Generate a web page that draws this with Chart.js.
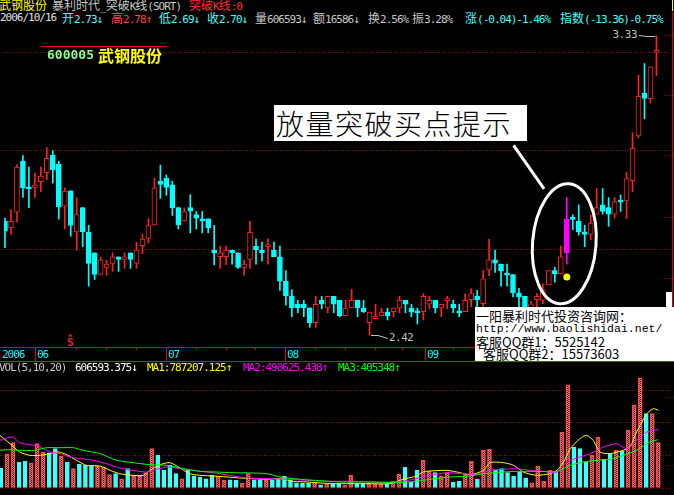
<!DOCTYPE html>
<html>
<head>
<meta charset="utf-8">
<title>武钢股份 日线</title>
<script src="https://cdn.jsdelivr.net/npm/chart.js@4.4.1/dist/chart.umd.min.js"></script>
<style>
  html, body { margin: 0; padding: 0; background: #000; }
  #wrap { position: relative; width: 674px; height: 495px; overflow: hidden; background: #000; }
  canvas { position: absolute; left: 0; }
  #priceChart { top: 26px; }
  #volChart { top: 362px; }
  .t { position: absolute; white-space: nowrap; font: 11px 'DejaVu Sans Mono', monospace; letter-spacing: -1px; line-height: 12px; }
  .cjk { font-family: 'Noto Sans CJK SC', sans-serif; font-size: 12px; letter-spacing: 0; }
  .rule { position: absolute; background: #e00000; }
  #tip { position: absolute; left: 274px; top: 105px; width: 253px; height: 36px; background: #fff; color: #000;
         font: 300 28px 'Noto Sans CJK SC', sans-serif; line-height: 36px; letter-spacing: 1.5px; padding-left: 2px;
         box-sizing: border-box; white-space: nowrap; overflow: hidden; }
  #info { position: absolute; left: 475px; top: 307px; width: 199px; height: 54px; background: #fff; color: #000; overflow: hidden; }
  #info div { position: absolute; white-space: nowrap; font: 13px 'Noto Sans CJK SC', sans-serif; line-height: 14px; }
  #info .url { font: 11.5px 'Liberation Mono', monospace; }
</style>
</head>
<body>
<div id="wrap">
  <canvas id="priceChart" width="674" height="336"></canvas>
  <canvas id="volChart" width="674" height="133"></canvas>

  <!-- header line 1 -->
  <div class="t hd" style="left:-1px;top:-1px;color:#ffff00">武钢股份</div>
  <div class="t hd" style="left:52px;top:-1px;color:#c8c8c8">暴利时代_突破K线(SORT)</div>
  <div class="t hd" style="left:189px;top:-1px;color:#ff3030">突破K线:0</div>

  <!-- header line 2 -->
  <div class="t hd" style="left:0;top:12px;color:#e0e0e0">2006/10/16</div>
  <div class="t hd" style="left:62px;top:12px;color:#40ffff">开2.73↓</div>
  <div class="t hd" style="left:111px;top:12px;color:#ff4848">高2.78↑</div>
  <div class="t hd" style="left:159px;top:12px;color:#40ffff">低2.69↓</div>
  <div class="t hd" style="left:207px;top:12px;color:#40ffff">收2.70↓</div>
  <div class="t hd" style="left:255px;top:12px;color:#c8c8c8">量606593↓</div>
  <div class="t hd" style="left:313px;top:12px;color:#c8c8c8">额16586↓</div>
  <div class="t hd" style="left:368px;top:12px;color:#c8c8c8">换2.56%</div>
  <div class="t hd" style="left:412px;top:12px;color:#c8c8c8">振3.28%</div>
  <div class="t hd" style="left:465px;top:12px;color:#40ffff">涨(-0.04)-1.46%</div>
  <div class="t hd" style="left:560px;top:12px;color:#40ffff">指数(-13.36)-0.75%</div>

  <!-- stock label -->
  <div class="rule" style="left:41px;top:46px;width:126px;height:1px"></div>
  <div class="t" style="left:47px;top:48px;font:bold 13px 'DejaVu Sans Mono';letter-spacing:0;line-height:14px;color:#88ff88">600005</div>
  <div class="t" style="left:98px;top:46px;font:bold 16px 'Noto Sans CJK SC';letter-spacing:0;line-height:18px;color:#ffff00">武钢股份</div>

  <!-- right border -->
  <div class="rule" style="left:672px;top:12px;width:1px;height:336px"></div>
  <div style="position:absolute;left:672px;top:0;width:1px;height:11px;background:#ffff00"></div>

  <!-- volume header -->
  <div class="t" style="left:-1px;top:362px;color:#c8c8c8">VOL(5,10,20)</div>
  <div class="t" style="left:75px;top:362px;color:#ffffff">606593.375↓</div>
  <div class="t" style="left:147px;top:362px;color:#ffff00">MA1:787207.125↑</div>
  <div class="t" style="left:243px;top:362px;color:#ff00ff">MA2:490625.438↑</div>
  <div class="t" style="left:338px;top:362px;color:#00ff00">MA3:405348↑</div>

  <!-- annotations -->
  <div id="tip">放量突破买点提示</div>
  <div style="position:absolute;left:666px;top:292px;width:6px;height:15px;background:#fff"></div>
  <div id="info">
    <div style="left:1px;top:2px">一阳暴利时代投资咨询网：</div>
    <div class="url" style="left:1px;top:15px">http://www.baolishidai.net/</div>
    <div style="left:1px;top:28px">客服QQ群1：5525142</div>
    <div style="left:8px;top:40px">客服QQ群2：15573603</div>
  </div>
</div>

<script>
// Daily candles, 600005 武钢股份 (day 1 .. 110)
const opens = [
  2.766, 2.746, 2.794, 2.949, 2.868, 2.869, 2.887, 2.914, 2.967, 2.940,
  2.812, 2.859, 2.734, 2.808, 2.733, 2.670, 2.605, 2.626, 2.638, 2.658,
  2.650, 2.670, 2.638, 2.692, 2.714, 2.755, 2.888, 2.898, 2.877, 2.808,
  2.767, 2.808, 2.787, 2.774, 2.774, 2.679, 2.659, 2.659, 2.679, 2.670,
  2.626, 2.650, 2.691, 2.679, 2.689, 2.679, 2.658, 2.584, 2.539, 2.514,
  2.514, 2.503, 2.458, 2.526, 2.503, 2.538, 2.526, 2.479, 2.503, 2.526,
  2.502, 2.458, 2.470, 2.479, 2.490, 2.491, 2.503, 2.526, 2.502, 2.490,
  2.491, 2.514, 2.526, 2.503, 2.525, 2.514, 2.490, 2.491, 2.528, 2.539,
  2.516, 2.618, 2.649, 2.636, 2.604, 2.604, 2.548, 2.538, 2.490, 2.528,
  2.526, 2.573, 2.616, 2.606, 2.671, 2.774, 2.766, 2.734, 2.726, 2.788,
  2.816, 2.808, 2.788, 2.826, 2.828, 2.890, 3.026, 3.156, 3.139, 3.280
];
const highs = [
  2.776, 2.801, 2.939, 2.966, 2.931, 2.913, 2.931, 2.991, 2.981, 2.949,
  2.868, 2.859, 2.838, 2.808, 2.754, 2.670, 2.658, 2.648, 2.670, 2.658,
  2.670, 2.670, 2.703, 2.727, 2.774, 2.898, 2.937, 2.907, 2.888, 2.808,
  2.807, 2.847, 2.796, 2.796, 2.774, 2.754, 2.691, 2.691, 2.679, 2.670,
  2.648, 2.766, 2.712, 2.703, 2.712, 2.703, 2.691, 2.616, 2.558, 2.526,
  2.526, 2.503, 2.538, 2.538, 2.538, 2.538, 2.526, 2.526, 2.559, 2.526,
  2.526, 2.490, 2.514, 2.502, 2.502, 2.502, 2.538, 2.526, 2.514, 2.502,
  2.546, 2.538, 2.526, 2.514, 2.538, 2.526, 2.514, 2.546, 2.561, 2.556,
  2.616, 2.711, 2.679, 2.636, 2.636, 2.604, 2.562, 2.538, 2.523, 2.546,
  2.576, 2.616, 2.626, 2.691, 2.838, 2.786, 2.816, 2.754, 2.786, 2.866,
  2.866, 2.838, 2.838, 2.846, 2.916, 3.036, 3.211, 3.246, 3.236, 3.330
];
const lows = [
  2.686, 2.726, 2.764, 2.839, 2.808, 2.839, 2.856, 2.893, 2.883, 2.773,
  2.743, 2.721, 2.678, 2.689, 2.569, 2.589, 2.605, 2.602, 2.614, 2.614,
  2.623, 2.623, 2.623, 2.668, 2.701, 2.755, 2.836, 2.845, 2.784, 2.743,
  2.767, 2.731, 2.743, 2.731, 2.731, 2.634, 2.623, 2.634, 2.636, 2.623,
  2.602, 2.623, 2.636, 2.646, 2.636, 2.659, 2.556, 2.511, 2.476, 2.488,
  2.476, 2.444, 2.444, 2.500, 2.488, 2.488, 2.476, 2.479, 2.503, 2.476,
  2.488, 2.420, 2.470, 2.479, 2.466, 2.476, 2.488, 2.488, 2.476, 2.454,
  2.466, 2.500, 2.488, 2.476, 2.500, 2.488, 2.476, 2.491, 2.506, 2.506,
  2.506, 2.601, 2.611, 2.569, 2.569, 2.536, 2.506, 2.496, 2.480, 2.506,
  2.516, 2.573, 2.581, 2.606, 2.636, 2.741, 2.724, 2.689, 2.710, 2.788,
  2.788, 2.751, 2.776, 2.796, 2.774, 2.856, 3.020, 3.078, 3.126, 3.209
];
const closes = [
  2.736, 2.766, 2.931, 2.868, 2.865, 2.876, 2.904, 2.958, 2.923, 2.811,
  2.858, 2.754, 2.787, 2.734, 2.638, 2.605, 2.648, 2.636, 2.658, 2.650,
  2.658, 2.650, 2.679, 2.712, 2.753, 2.868, 2.878, 2.869, 2.808, 2.755,
  2.796, 2.797, 2.776, 2.767, 2.746, 2.670, 2.670, 2.679, 2.671, 2.626,
  2.636, 2.733, 2.680, 2.671, 2.691, 2.659, 2.584, 2.539, 2.503, 2.503,
  2.503, 2.458, 2.514, 2.514, 2.538, 2.514, 2.479, 2.502, 2.526, 2.503,
  2.491, 2.490, 2.478, 2.490, 2.479, 2.502, 2.526, 2.514, 2.490, 2.488,
  2.538, 2.526, 2.503, 2.514, 2.527, 2.503, 2.488, 2.526, 2.546, 2.528,
  2.591, 2.649, 2.639, 2.616, 2.602, 2.548, 2.536, 2.501, 2.515, 2.538,
  2.558, 2.616, 2.606, 2.658, 2.774, 2.772, 2.734, 2.726, 2.761, 2.808,
  2.796, 2.788, 2.826, 2.824, 2.896, 2.988, 3.146, 3.140, 3.236, 3.282
];
// Volume, 万股
const volumes = [
  29.9, 51.3, 67.8, 38.9, 39.9, 37.8, 66.3, 53.9, 52.8, 58.8,
  47.4, 38.9, 28.9, 35.5, 34.0, 34.0, 32.5, 31.4, 19.9, 21.4,
  13.9, 28.9, 19.0, 19.0, 22.9, 58.8, 48.9, 26.5, 34.0, 21.4,
  13.9, 26.5, 18.0, 16.5, 13.9, 19.0, 18.0, 11.5, 12.4, 11.5,
  7.5, 21.4, 12.4, 12.4, 11.5, 11.5, 13.0, 18.0, 11.5, 7.9,
  7.5, 7.5, 9.0, 4.9, 6.4, 6.4, 6.4, 4.0, 19.0, 6.4,
  6.4, 7.5, 6.4, 6.4, 6.4, 10.0, 20.5, 31.0, 9.0, 26.5,
  41.4, 25.0, 22.9, 18.0, 22.9, 9.0, 10.0, 19.9, 39.9, 13.0,
  56.4, 57.9, 26.5, 28.9, 22.9, 18.0, 23.9, 15.4, 7.9, 32.5,
  10.0, 26.5, 23.9, 83.8, 154.5, 60.9, 58.8, 38.9, 48.9, 75.8,
  42.9, 51.3, 56.4, 54.9, 86.3, 124.6, 165.0, 111.2, 111.2, 67.8
];
// Volume moving averages as drawn, [day, 万股]
const ma5 = [
  [0.8, 78.8], [2.5, 66.3], [4.1, 53.9], [5.8, 48.9], [7.5, 48.9], [9.1, 51.4], [10.5, 53.9],
  [11.9, 49.9], [13.5, 41.4], [15.2, 33.9], [17.4, 32.9], [19.1, 26.4], [20.7, 21.4], [22.9, 19.0],
  [24.6, 19.0], [25.7, 26.4], [27.4, 34.9], [29.0, 37.9], [30.7, 29.9], [32.3, 21.4], [34.0, 19.0],
  [36.2, 18.0], [38.4, 16.5], [40.6, 15.0], [42.8, 14.0], [45.1, 13.0], [47.3, 14.0], [49.5, 10.0],
  [51.7, 9.0], [53.9, 7.5], [56.1, 6.5], [58.9, 6.5], [62.2, 6.5], [65.5, 6.5], [67.7, 13.0],
  [69.9, 18.0], [71.0, 23.9], [72.1, 25.4], [74.9, 26.4], [76.6, 23.9], [78.8, 19.9], [81.0, 26.4],
  [82.1, 37.9], [84.3, 37.9], [86.0, 33.9], [87.6, 23.9], [89.8, 19.0], [92.0, 21.4], [93.2, 26.4],
  [94.3, 38.9], [95.4, 58.8], [97.0, 73.8], [98.1, 78.8], [99.2, 71.3], [100.3, 53.9], [102.0, 51.4],
  [104.2, 56.4], [105.3, 61.3], [106.4, 83.8], [108.1, 111.2], [109.2, 118.7], [110.0, 116.2]
];
const ma10 = [
  [0.8, 71.3], [2.9, 76.3], [4.1, 67.8], [5.8, 64.8], [7.5, 61.3], [9.1, 53.9], [10.8, 51.4],
  [12.4, 46.4], [14.1, 43.9], [16.3, 41.4], [18.5, 36.4], [20.7, 29.9], [22.9, 26.4], [25.1, 23.9],
  [26.8, 27.9], [28.5, 31.4], [30.7, 28.9], [32.9, 26.4], [35.1, 23.9], [37.3, 21.4], [39.5, 18.0],
  [41.7, 15.0], [45.1, 14.0], [48.4, 13.0], [51.7, 11.5], [55.0, 10.0], [58.9, 10.0], [62.2, 9.0],
  [66.6, 9.0], [69.4, 13.0], [72.1, 19.0], [74.9, 22.9], [77.7, 21.4], [79.9, 20.4], [82.1, 26.4],
  [84.3, 27.9], [86.5, 28.9], [88.7, 26.4], [90.9, 24.9], [93.2, 23.9], [94.8, 38.9], [96.5, 44.9],
  [98.7, 51.4], [100.9, 61.3], [103.1, 66.3], [104.8, 58.8], [106.4, 71.3], [108.1, 83.8], [110.0, 87.3]
];
const ma20 = [
  [0.8, 56.4], [2.5, 57.4], [4.1, 56.4], [6.4, 56.4], [8.6, 60.3], [10.8, 60.3], [13.0, 60.3],
  [14.6, 56.4], [17.4, 51.4], [20.2, 41.4], [22.9, 37.9], [25.7, 34.9], [28.5, 33.9], [31.2, 28.9],
  [34.0, 24.9], [36.8, 23.9], [39.5, 22.9], [42.8, 22.4], [45.1, 21.4], [47.3, 16.5], [50.6, 13.0],
  [53.9, 11.0], [57.2, 9.0], [62.2, 9.0], [66.6, 8.0], [69.9, 10.0], [72.1, 13.0], [75.5, 16.5],
  [78.8, 18.0], [81.0, 21.4], [84.3, 23.9], [86.5, 24.9], [89.8, 24.9], [93.2, 24.9], [95.4, 33.9],
  [97.6, 38.9], [99.8, 41.4], [102.0, 42.9], [104.2, 48.9], [106.4, 56.4], [108.6, 68.8], [110.0, 72.3]
];

// Signals
const breakoutDays = [95];     // 突破K线, drawn magenta
const buyDotDays = [95];
const buyDotPrices = [2.597];
const sellDays = [12];

// Axes
const priceGrid = [2.68, 2.98, 3.28];
const volGrid = [0, 48.75, 97.5, 146.25];
const priceRightTicks = [3.333, 3.150, 2.967, 2.780, 2.594];
const volRightTicks = [136.1, 34.4];
const yearLabel = '2006';
const monthTicks = [6, 27.9, 47.9, 71.2];
const monthLabels = ['06', '07', '08', '09'];
const weekTicks = [12.9, 17.9, 22.9, 32.9, 37.9, 42.9, 52.9, 57.9, 62.9, 67.4, 76.0];

// Callout: pointer line and ellipse round the breakout, in [day, price]
const callout = {
  from: [86.1, 2.997], to: [91.2, 2.865],
  center: [94.58, 2.698], radius: [5.31, 0.183], tilt: 0.08
};

// Colors
const UP = '#ff2020';
const DOWN = '#00ffff';
const BREAK = '#ff00ff';
const GRID = '#a00000';
const RULE = '#e00000';

const X_MIN = 0.834;
const X_MAX = 112.27;

Chart.defaults.animation = false;

const days = opens.map((_, i) => i + 1);
const isUp = days.map((d, i) => closes[i] >= opens[i]);
const lineColor = days.map((d, i) => breakoutDays.includes(d) ? BREAK : (isUp[i] ? UP : DOWN));
const fillColor = days.map((d, i) => breakoutDays.includes(d) ? BREAK : (isUp[i] ? '#000000' : DOWN));

// wrap CJK glyphs in the header so they get the wider font
document.querySelectorAll('.hd').forEach(el => {
  el.innerHTML = el.textContent.replace(/([\u3000-\u9fff\uff00-\uffef]+)/g, '<span class="cjk">$1</span>');
});

// dithered pink fill for rising volume bars
function ditherPattern(color) {
  const c = document.createElement('canvas');
  c.width = 2; c.height = 2;
  const g = c.getContext('2d');
  g.fillStyle = color;
  g.fillRect(0, 0, 1, 1);
  g.fillRect(1, 1, 1, 1);
  return document.getElementById('volChart').getContext('2d').createPattern(c, 'repeat');
}

function gridAxis(min, max, values) {
  return {
    min: min, max: max,
    afterBuildTicks: (scale) => { scale.ticks = values.map(v => ({ value: v })); },
    ticks: { display: false },
    grid: { color: GRID, lineWidth: 1, drawTicks: false },
    border: { display: false, dash: [1, 2] }
  };
}

function xAxis() {
  return { type: 'linear', min: X_MIN, max: X_MAX, offset: false, display: false };
}

function rightTicks(ctx, chart, scale, values) {
  ctx.save();
  ctx.strokeStyle = GRID;
  ctx.setLineDash([1, 2]);
  ctx.beginPath();
  values.forEach(v => {
    const py = Math.round(scale.getPixelForValue(v)) + 0.5;
    ctx.moveTo(chart.chartArea.right - 6, py);
    ctx.lineTo(chart.width, py);
  });
  ctx.stroke();
  ctx.restore();
}

// Price panel extras: date row, high/low labels, signals, callout
const pricePlugin = {
  id: 'priceExtras',
  afterDatasetsDraw(chart) {
    const { ctx, chartArea, scales: { x, y } } = chart;
    ctx.save();

    // highest high / lowest low labels
    const hi = Math.max(...highs), hiDay = highs.indexOf(hi) + 1;
    const lo = Math.min(...lows), loDay = lows.indexOf(lo) + 1;
    ctx.strokeStyle = '#c0c0c0';
    ctx.fillStyle = '#c0c0c0';
    ctx.lineWidth = 1;
    ctx.font = '11px "DejaVu Sans Mono"';
    ctx.letterSpacing = '-0.5px';
    ctx.textBaseline = 'middle';

    let px = Math.round(x.getPixelForValue(hiDay));
    let py = Math.round(y.getPixelForValue(hi)) + 0.5;
    ctx.beginPath();
    ctx.moveTo(px - 1, py); ctx.lineTo(px - 9, py); ctx.lineTo(px - 17, py - 1);
    ctx.stroke();
    ctx.textAlign = 'right';
    ctx.fillText(hi.toFixed(2), px - 19, py - 1);

    px = Math.round(x.getPixelForValue(loDay));
    py = Math.round(y.getPixelForValue(lo)) + 0.5;
    ctx.beginPath();
    ctx.moveTo(px + 1, py); ctx.lineTo(px + 8, py); ctx.lineTo(px + 18, py + 3);
    ctx.stroke();
    ctx.textAlign = 'left';
    ctx.fillText(lo.toFixed(2), px + 19, py + 3);

    // sell marks at the panel bottom
    ctx.fillStyle = UP;
    ctx.font = 'bold 11px "DejaVu Sans Mono"';
    ctx.textAlign = 'center';
    ctx.textBaseline = 'alphabetic';
    sellDays.forEach(d => {
      const sx = x.getPixelForValue(d) - 0.5;
      const b = chartArea.bottom - 1;
      ctx.fillText('S', sx, b);
      ctx.beginPath();
      ctx.moveTo(sx, b - 12); ctx.lineTo(sx - 2.5, b - 9.5); ctx.lineTo(sx + 2.5, b - 9.5);
      ctx.closePath();
      ctx.fill();
    });

    // callout pointer and ellipse
    ctx.strokeStyle = '#ffffff';
    ctx.lineWidth = 3;
    ctx.beginPath();
    ctx.moveTo(x.getPixelForValue(callout.from[0]), y.getPixelForValue(callout.from[1]));
    ctx.lineTo(x.getPixelForValue(callout.to[0]), y.getPixelForValue(callout.to[1]));
    ctx.stroke();
    const cx = x.getPixelForValue(callout.center[0]);
    const cy = y.getPixelForValue(callout.center[1]);
    const rx = x.getPixelForValue(callout.center[0] + callout.radius[0]) - cx;
    const ry = y.getPixelForValue(callout.center[1] - callout.radius[1]) - cy;
    ctx.beginPath();
    ctx.ellipse(cx, cy, rx, ry, callout.tilt, 0, Math.PI * 2);
    ctx.stroke();
    ctx.restore();

    rightTicks(ctx, chart, y, priceRightTicks);
  },
  afterDraw(chart) {
    const { ctx, chartArea, scales: { x } } = chart;
    const base = chartArea.bottom;
    ctx.save();
    ctx.strokeStyle = RULE;
    ctx.lineWidth = 1;
    ctx.beginPath();
    ctx.moveTo(0, base + 0.5); ctx.lineTo(chart.width, base + 0.5);
    ctx.moveTo(0, base + 14.5); ctx.lineTo(chart.width, base + 14.5);
    monthTicks.forEach(v => {
      const px = Math.round(x.getPixelForValue(v)) + 0.5;
      ctx.moveTo(px, base); ctx.lineTo(px, base + 14);
    });
    weekTicks.forEach(v => {
      const px = Math.round(x.getPixelForValue(v)) + 0.5;
      ctx.moveTo(px, base); ctx.lineTo(px, base + 3);
    });
    ctx.stroke();

    ctx.font = '11px "DejaVu Sans Mono"';
    ctx.letterSpacing = '-1px';
    ctx.fillStyle = '#00ffff';
    ctx.textBaseline = 'middle';
    ctx.fillText(yearLabel, 2, base + 8);
    monthTicks.forEach((v, i) => {
      ctx.fillText(monthLabels[i], Math.round(x.getPixelForValue(v)) + 2, base + 8);
    });
    ctx.restore();
  }
};

const volPlugin = {
  id: 'volExtras',
  afterDraw(chart) {
    rightTicks(chart.ctx, chart, chart.scales.y, volRightTicks);
  }
};

// Price chart: wicks and bodies as floating bars
function initPriceChart() {
  const ctx = document.getElementById('priceChart').getContext('2d');
  return new Chart(ctx, {
    type: 'bar',
    data: {
      datasets: [
        {
          type: 'line',
          data: buyDotDays.map((d, i) => ({ x: d, y: buyDotPrices[i] })),
          showLine: false,
          pointRadius: 3.5,
          pointBackgroundColor: '#ffff00',
          pointBorderWidth: 0,
          order: 1
        },
        {
          data: days.map((d, i) => ({ x: d, y: [opens[i], closes[i]] })),
          backgroundColor: fillColor,
          borderColor: lineColor,
          borderWidth: 1,
          borderSkipped: false,
          barThickness: 5,
          minBarLength: 2,
          grouped: false,
          order: 2
        },
        {
          data: days.map((d, i) => ({ x: d, y: [lows[i], highs[i]] })),
          backgroundColor: lineColor,
          borderWidth: 0,
          barThickness: 1,
          grouped: false,
          order: 3
        }
      ]
    },
    options: {
      responsive: false,
      devicePixelRatio: 1,
      events: [],
      layout: { padding: { left: 0, right: 2, top: 0, bottom: 15 } },
      plugins: { legend: { display: false }, tooltip: { enabled: false } },
      scales: {
        x: xAxis(),
        y: gridAxis(2.3839, 3.348, priceGrid)
      }
    },
    plugins: [pricePlugin]
  });
}

// Volume chart with MA5 / MA10 / MA20
function initVolumeChart() {
  const ctx = document.getElementById('volChart').getContext('2d');
  const upFill = ditherPattern('#ff7070');
  const maLine = (points, color) => ({
    type: 'line',
    data: points.map(p => ({ x: p[0], y: p[1] })),
    borderColor: color,
    borderWidth: 1,
    pointRadius: 0,
    tension: 0.25,
    order: 1
  });
  return new Chart(ctx, {
    type: 'bar',
    data: {
      datasets: [
        maLine(ma20, '#00ff00'),
        maLine(ma10, '#ff00ff'),
        maLine(ma5, '#ffff00'),
        {
          data: days.map((d, i) => ({ x: d, y: volumes[i] })),
          backgroundColor: days.map((d, i) => isUp[i] ? upFill : '#40ffff'),
          borderColor: days.map((d, i) => isUp[i] ? '#ff4646' : '#40ffff'),
          borderWidth: 1,
          borderSkipped: false,
          barThickness: 4,
          grouped: false,
          order: 2
        }
      ]
    },
    options: {
      responsive: false,
      devicePixelRatio: 1,
      events: [],
      layout: { padding: { left: 0, right: 2, top: 0, bottom: 7 } },
      plugins: { legend: { display: false }, tooltip: { enabled: false } },
      scales: {
        x: xAxis(),
        y: gridAxis(0, 188.5, volGrid)
      }
    },
    plugins: [volPlugin]
  });
}

initPriceChart();
initVolumeChart();
</script>
</body>
</html>
